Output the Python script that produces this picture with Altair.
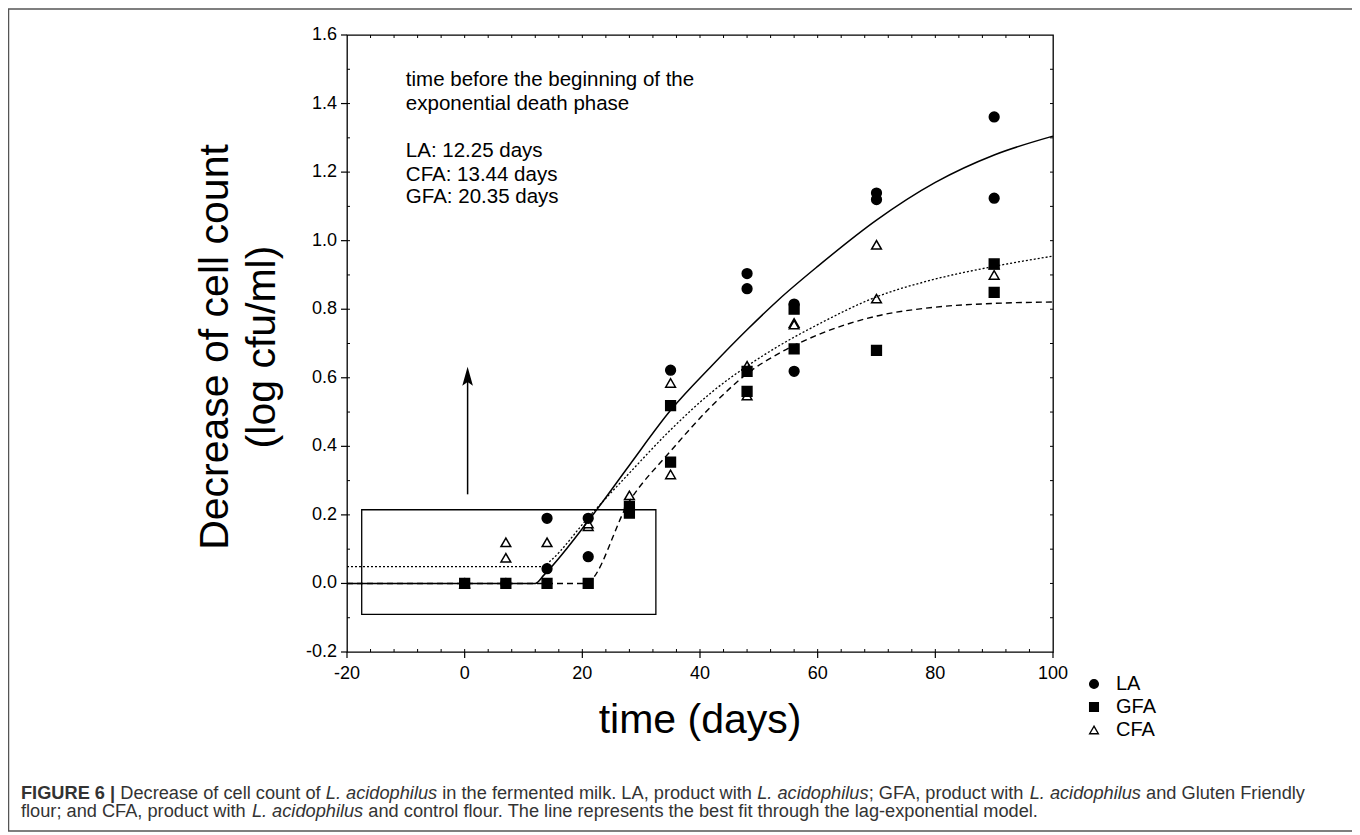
import altair as alt
import pandas as pd

LA_DAY = [0, 7, 14, 14, 21, 21, 28, 35, 48, 48, 56, 56, 70, 70, 90, 90]
LA_VAL = [0.0, 0.0, 0.19, 0.043, 0.19, 0.078, 0.215, 0.622, 0.904, 0.86, 0.815, 0.619, 1.139, 1.12, 1.361, 1.124]

GFA_DAY = [0, 7, 14, 21, 28, 28, 35, 35, 48, 48, 56, 56, 70, 90, 90]
GFA_VAL = [0.0, 0.0, 0.0, 0.0, 0.205, 0.225, 0.519, 0.354, 0.619, 0.56, 0.80, 0.684, 0.68, 0.932, 0.849]

CFA_DAY = [0, 7, 7, 14, 21, 21, 28, 35, 35, 48, 48, 56, 56, 70, 70, 90, 90]
CFA_VAL = [0.0, 0.12, 0.075, 0.12, 0.167, 0.175, 0.257, 0.585, 0.318, 0.635, 0.548, 0.76, 0.755, 0.988, 0.831, 0.90, 0.93]

# ---------------- fitted curves ----------------
LA_FIT_DAY = [-20, 12, 13.5, 22, 28, 35, 42, 48, 53.5, 60, 70, 80, 90, 100]
LA_FIT_VAL = [0.0, 0.0, 0.025, 0.205, 0.345, 0.505, 0.635, 0.74, 0.83, 0.925, 1.06, 1.17, 1.25, 1.305]

CFA_FIT_DAY = [-20, 13.3, 14.5, 21.2, 28, 35, 42, 48, 53.5, 60, 70, 80, 90, 100]
CFA_FIT_VAL = [0.049, 0.049, 0.065, 0.196, 0.322, 0.448, 0.558, 0.634, 0.694, 0.755, 0.836, 0.888, 0.925, 0.955]

GFA_FIT_DAY = [-20, 20.5, 28, 35, 42, 48, 53.5, 60, 70, 80, 90, 100]
GFA_FIT_VAL = [0.0, 0.0, 0.24, 0.386, 0.518, 0.612, 0.672, 0.725, 0.78, 0.806, 0.817, 0.821]

SERIES = ["LA", "GFA", "CFA"]

# ---------------- axes ----------------
X_DOMAIN = [-20, 100]
Y_DOMAIN = [-0.2, 1.6]
X_MAJOR = [-20, 0, 20, 40, 60, 80, 100]
Y_MAJOR = [-0.2, 0.0, 0.2, 0.4, 0.6, 0.8, 1.0, 1.2, 1.4, 1.6]
X_MINOR = [-16, -12, -8, -4, 0, 4, 8, 12, 16, 20, 24, 28, 32, 36, 40, 44, 48, 52,
           56, 60, 64, 68, 72, 76, 80, 84, 88, 92, 96]
Y_MINOR = [-0.1, 0.0, 0.1, 0.2, 0.3, 0.4, 0.5, 0.6, 0.7, 0.8, 0.9, 1.0, 1.1, 1.2,
           1.3, 1.4, 1.5]

# annotation box, arrow and text (data coordinates)
BOX = {"x": -17.5, "x2": 32.5, "y": -0.09, "y2": 0.215}
ARROW = {"x": 0.5, "y": 0.26, "y2": 0.60, "tip": 0.632}
NOTE_X = -10.0
NOTE_LINES = ["time before the beginning of the", "exponential death phase",
              "LA: 12.25 days", "CFA: 13.44 days", "GFA: 20.35 days"]
NOTE_Y = [1.469, 1.399, 1.261, 1.192, 1.126]

CAPTION_1 = [("FIGURE 6 |", "bold"), (" Decrease of cell count of ", "normal"),
             ("L. acidophilus", "italic"), (" in the fermented milk. LA, product with ", "normal"),
             ("L. acidophilus", "italic"), ("; GFA, product with ", "normal"),
             ("L. acidophilus", "italic"), (" and Gluten Friendly", "normal")]
CAPTION_2 = [("flour; and CFA, product with ", "normal"), ("L. acidophilus", "italic"),
             (" and control flour. The line represents the best fit through the lag-exponential model.", "normal")]

W, H = 706, 617
FONT = "Liberation Sans"

xs = alt.Scale(domain=X_DOMAIN, nice=False, zero=False)
ys = alt.Scale(domain=Y_DOMAIN, nice=False, zero=False)

one = pd.DataFrame({"k": [0]})

# ---------------- points ----------------
pts = pd.concat([
    pd.DataFrame({"day": CFA_DAY, "val": CFA_VAL, "series": "CFA"}),
    pd.DataFrame({"day": LA_DAY, "val": LA_VAL, "series": "LA"}),
    pd.DataFrame({"day": GFA_DAY, "val": GFA_VAL, "series": "GFA"}),
], ignore_index=True)

legend = alt.Legend(title=None, orient="none", legendX=737, legendY=639,
                    labelFontSize=20, labelFont=FONT, labelColor="black",
                    symbolSize=75, rowPadding=3, labelOffset=12,
                    symbolStrokeWidth=1.4)

points = alt.Chart(pts).mark_point(filled=True, size=95, strokeWidth=1.5, opacity=1).encode(
    x=alt.X("day:Q", scale=xs, axis=None),
    y=alt.Y("val:Q", scale=ys, axis=None),
    shape=alt.Shape("series:N", scale=alt.Scale(domain=SERIES,
                    range=["circle", "square", "triangle-up"]), legend=legend),
    fill=alt.Fill("series:N", scale=alt.Scale(domain=SERIES,
                  range=["black", "black", "white"]), legend=legend),
    stroke=alt.Stroke("series:N", scale=alt.Scale(domain=SERIES,
                      range=["black", "black", "black"]), legend=legend),
)


def curve(days, vals, dash, width):
    df = pd.DataFrame({"day": days, "val": vals})
    kw = {"strokeDash": dash} if dash else {}
    return alt.Chart(df).mark_line(color="black", strokeWidth=width,
                                   interpolate="monotone", **kw).encode(
        x=alt.X("day:Q", scale=xs, axis=None),
        y=alt.Y("val:Q", scale=ys, axis=None),
    )


gfa_line = curve(GFA_FIT_DAY, GFA_FIT_VAL, [6, 4], 1.4)
cfa_line = curve(CFA_FIT_DAY, CFA_FIT_VAL, [2, 2], 1.3)
la_line = curve(LA_FIT_DAY, LA_FIT_VAL, None, 1.5)

box = alt.Chart(pd.DataFrame([BOX])).mark_rect(
    fillOpacity=0, stroke="black", strokeWidth=1.3).encode(
    x=alt.X("x:Q", scale=xs, axis=None), x2="x2:Q",
    y=alt.Y("y:Q", scale=ys, axis=None), y2="y2:Q")

arrow_line = alt.Chart(pd.DataFrame([ARROW])).mark_rule(
    color="black", strokeWidth=1.5).encode(
    x=alt.X("x:Q", scale=xs, axis=None),
    y=alt.Y("y:Q", scale=ys, axis=None), y2="y2:Q")

arrow_head = alt.Chart(pd.DataFrame([ARROW])).mark_point(
    shape="M0,0L0.28,1L0,0.8L-0.28,1Z", size=1444, filled=True,
    fill="black", strokeWidth=0, opacity=1).encode(
    x=alt.X("x:Q", scale=xs, axis=None),
    y=alt.Y("tip:Q", scale=ys, axis=None))

note = alt.Chart(pd.DataFrame({"x": [NOTE_X] * len(NOTE_LINES), "y": NOTE_Y,
                               "t": NOTE_LINES})).mark_text(
    align="left", baseline="middle", font=FONT, fontSize=20.5, color="black").encode(
    x=alt.X("x:Q", scale=xs, axis=None),
    y=alt.Y("y:Q", scale=ys, axis=None), text="t:N")

# ---------------- hand-drawn axes (ticks and labels from tick arrays) ----------------
xt = pd.DataFrame({"t": X_MINOR})
yt = pd.DataFrame({"t": Y_MINOR})
xm = pd.DataFrame({"t": X_MAJOR, "lab": [str(v) for v in X_MAJOR]})
ym = pd.DataFrame({"t": Y_MAJOR, "lab": [f"{v:.1f}" for v in Y_MAJOR]})
tick_kw = dict(color="black", strokeWidth=1)
tb = alt.Chart(xt).mark_rule(**tick_kw).encode(
    x=alt.X("t:Q", scale=xs, axis=None), y=alt.value(H), y2=alt.value(H - 3))
tt = alt.Chart(xt).mark_rule(**tick_kw).encode(
    x=alt.X("t:Q", scale=xs, axis=None), y=alt.value(0), y2=alt.value(3))
tl = alt.Chart(yt).mark_rule(**tick_kw).encode(
    y=alt.Y("t:Q", scale=ys, axis=None), x=alt.value(0), x2=alt.value(3))
tr = alt.Chart(yt).mark_rule(**tick_kw).encode(
    y=alt.Y("t:Q", scale=ys, axis=None), x=alt.value(W), x2=alt.value(W - 3))
xmaj = alt.Chart(xm).mark_rule(color="black", strokeWidth=1.2).encode(
    x=alt.X("t:Q", scale=xs, axis=None), y=alt.value(H), y2=alt.value(H + 6))
ymaj = alt.Chart(ym).mark_rule(color="black", strokeWidth=1.2).encode(
    y=alt.Y("t:Q", scale=ys, axis=None), x=alt.value(0), x2=alt.value(-6))
xlab = alt.Chart(xm).mark_text(font=FONT, fontSize=18, color="black",
                               align="center", baseline="middle").encode(
    x=alt.X("t:Q", scale=xs, axis=None), y=alt.value(H + 22), text="lab:N")
ylab = alt.Chart(ym).mark_text(font=FONT, fontSize=18, color="black",
                               align="right", baseline="middle").encode(
    y=alt.Y("t:Q", scale=ys, axis=None), x=alt.value(-10), text="lab:N")


def label(text, x, y, size, angle=0, align="center", baseline="middle",
          font=FONT, weight="normal", style="normal", color="black"):
    kw = {"angle": angle} if angle else {}
    return alt.Chart(one).mark_text(
        text=text, align=align, baseline=baseline, font=font, fontSize=size,
        fontWeight=weight, fontStyle=style, color=color, **kw).encode(
        x=alt.value(x), y=alt.value(y))


titles = [
    label("time (days)", 353, 686, 41),
    label("Decrease of cell count", -131, 312, 41, angle=270),
    label("(log cfu/ml)", -84, 312, 41, angle=270),
]

# ---------------- caption: mixed styles laid out with Arial-compatible metrics ----------------
_REG = {' ': 278, '.': 278, ',': 278, ';': 278, '-': 333, '|': 260, '6': 556,
        'A': 667, 'C': 722, 'D': 722, 'F': 611, 'G': 778, 'L': 556, 'T': 611,
        'a': 556, 'b': 556, 'c': 500, 'd': 556, 'e': 556, 'f': 278, 'g': 556,
        'h': 556, 'i': 222, 'k': 500, 'l': 222, 'm': 833, 'n': 556, 'o': 556,
        'p': 556, 'r': 333, 's': 500, 't': 278, 'u': 556, 'x': 500, 'y': 500,
        'w': 722, 'v': 500}
_BOLD = {'F': 611, 'I': 278, 'G': 778, 'U': 722, 'R': 722, 'E': 667, ' ': 278,
         '6': 556, '|': 280}


def em(text, style):
    table = _BOLD if style == "bold" else _REG
    return sum(table.get(c, 556) for c in text) / 1000.0


CAP_LEFT = -326          # x of caption start, relative to plot origin
CAP_RIGHT = 958          # x of end of first caption line
CS = round((CAP_RIGHT - CAP_LEFT) / sum(em(t, s) for t, s in CAPTION_1), 2)
CC = "#333333"


def caption_line(segments, y):
    out, x = [], CAP_LEFT
    for text, style in segments:
        lead = len(text) - len(text.lstrip(" "))
        stripped = text.strip(" ")
        out.append(label(stripped, x + em(" " * lead, "normal") * CS, y, CS,
                         align="left", baseline="alphabetic", color=CC,
                         weight="bold" if style == "bold" else "normal",
                         style="italic" if style == "italic" else "normal"))
        x += em(text, style) * CS
    return out


caption = caption_line(CAPTION_1, 764) + caption_line(CAPTION_2, 782)

frame = alt.Chart(one).mark_rect(fillOpacity=0, stroke="#555555", strokeWidth=1.5).encode(
    x=alt.value(-338.5), x2=alt.value(1008), y=alt.value(-26), y2=alt.value(796))

chart = alt.layer(
    points, gfa_line, cfa_line, la_line, box, arrow_line, arrow_head, note,
    tb, tt, tl, tr, xmaj, ymaj, xlab, ylab, *titles, *caption, frame,
).properties(
    width=W, height=H,
    padding={"left": 339, "top": 27, "right": 299, "bottom": 183},
    autosize=alt.AutoSizeParams(type="none"),
).configure_view(
    stroke="black", strokeWidth=1.3
)

chart.save("out.html", embed_options={"renderer": "svg", "actions": False})
